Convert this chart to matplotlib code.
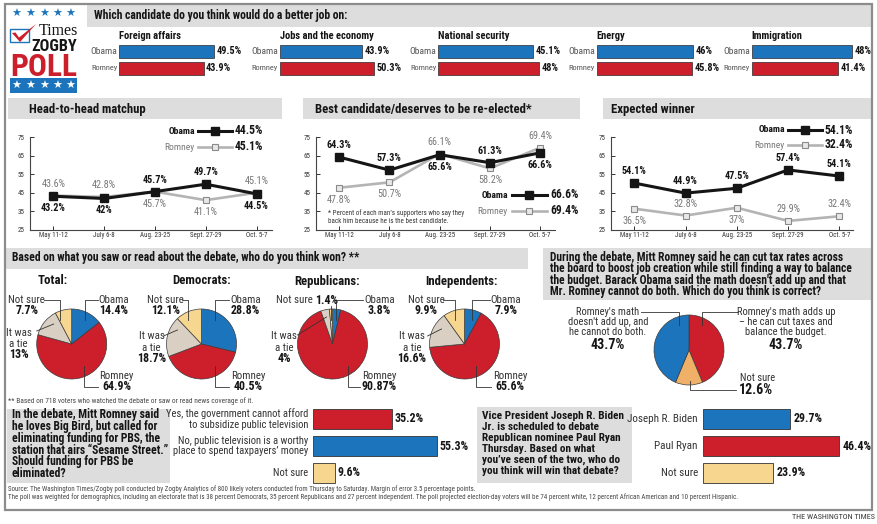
import os
import numpy as np
import matplotlib
matplotlib.use("Agg")
import matplotlib.pyplot as plt
from matplotlib import font_manager
from matplotlib.patches import Rectangle, Polygon
from matplotlib.font_manager import FontProperties

W, H = 878, 524

# ------------------------------------------------------------------ fonts
def _find(keys):
    for key in keys:
        for f in font_manager.fontManager.ttflist:
            if key in os.path.basename(f.fname).lower():
                return f.fname
    return None

COND_REG = _find(["liberationsansnarrow-regular", "robotocondensed-regular",
                  "dejavusanscondensed.ttf", "notosans-condensed.", "notosanscondensed-regular"])
COND_BLD = _find(["liberationsansnarrow-bold.", "robotocondensed-bold.",
                  "dejavusanscondensed-bold.", "notosans-condensedbold.", "notosanscondensed-bold."])
_fams = {f.name for f in font_manager.fontManager.ttflist}
FALLBACK = "Roboto" if "Roboto" in _fams else "Liberation Sans"
SERIF = "Liberation Serif" if "Liberation Serif" in _fams else "DejaVu Serif"
plt.rcParams["font.family"] = [FALLBACK, "DejaVu Sans"]


def FP(bold=False, size=7):
    if COND_REG and COND_BLD:
        return FontProperties(fname=COND_BLD if bold else COND_REG, size=size)
    return FontProperties(family=[FALLBACK, "DejaVu Sans"], weight="bold" if bold else "normal", size=size)


# ------------------------------------------------------------------ data
issues = ["Foreign affairs", "Jobs and the economy", "National security", "Energy", "Immigration"]
issue_obama = [49.5, 43.9, 45.1, 46, 48]
issue_romney = [43.9, 50.3, 48, 45.8, 41.4]

dates = ["May 11-12", "July 6-8", "Aug. 23-25", "Sept. 27-29", "Oct. 5-7"]
yticks = [25, 35, 45, 55, 65, 75]
h2h_obama = [43.2, 42, 45.7, 49.7, 44.5]
h2h_romney = [43.6, 42.8, 45.7, 41.1, 45.1]
best_obama = [64.3, 57.3, 65.6, 61.3, 66.6]
best_romney = [47.8, 50.7, 66.1, 58.2, 69.4]
exp_obama = [50.3, 44.9, 47.5, 57.4, 54.1]          # first point is drawn lower than its label
exp_obama_labels = ["54.1%", "44.9%", "47.5%", "57.4%", "54.1%"]
exp_romney = [36.5, 32.8, 37, 29.9, 32.4]

pie_groups = ["Total:", "Democrats:", "Republicans:", "Independents:"]
pie_cats = ["Obama", "Romney", "It was\na tie", "Not sure"]
pie_total = [14.4, 64.9, 13, 7.7]
pie_dem = [28.8, 40.5, 18.7, 12.1]
pie_rep = [3.8, 90.87, 4, 1.4]
pie_ind = [7.9, 65.6, 16.6, 9.9]

math_cats = ["Romney's math adds up\n– he can cut taxes and\nbalance the budget.",
             "Not sure",
             "Romney's math\ndoesn't add up, and\nhe cannot do both."]
math_vals = [43.7, 12.6, 43.7]

pbs_cats = ["Yes, the government cannot afford\nto subsidize public television",
            "No, public television is a worthy\nplace to spend taxpayers’ money",
            "Not sure"]
pbs_vals = [35.2, 55.3, 9.6]

vp_cats = ["Joseph R. Biden", "Paul Ryan", "Not sure"]
vp_vals = [29.7, 46.4, 23.9]

# ------------------------------------------------------------------ style
BLUE = "#1c75bc"
RED = "#cc1f2b"
TIE = "#d9d0c3"
NOTSURE = "#f7d690"
NOTSURE2 = "#f0b068"
BAND = "#dddddd"
DARK = "#151515"
LC = "#333333"
ROM_LINE = "#b4b4b4"
ROM_FILL = "#e8e8e8"
ROM_EDGE = "#8a8a8a"

fig = plt.figure(figsize=(W / 100, H / 100), dpi=100)
fig.patch.set_facecolor("white")
renderer = fig.canvas.get_renderer()


def px_axes(x0, y0, x1, y1, z=2):
    ax = fig.add_axes([x0 / W, 1 - y1 / H, (x1 - x0) / W, (y1 - y0) / H])
    ax.set_zorder(z)
    ax.patch.set_visible(False)
    return ax


bg = px_axes(0, 0, W, H, 0)
bg.set_xlim(0, W); bg.set_ylim(H, 0); bg.axis("off")
fg = px_axes(0, 0, W, H, 10)
fg.set_xlim(0, W); fg.set_ylim(H, 0); fg.axis("off")


def shrink(t, w=None, fit=None, cap=None):
    if w is None and fit is None:
        return t
    ww = t.get_window_extent(renderer).width
    if ww <= 0:
        return t
    if fit is not None:
        ns = t.get_fontsize() * fit / ww
        if cap is not None:
            ns = min(ns, cap)
        t.set_fontsize(ns)
    elif ww > w:
        t.set_fontsize(t.get_fontsize() * w / ww)
    return t


def T(x, y, s, size=7, bold=False, color=DARK, ha="left", va="center", fit=None, w=None, cap=None,
      fp=None, **kw):
    t = fg.text(x, y, s, fontproperties=fp if fp is not None else FP(bold, size),
                color=color, ha=ha, va=va, **kw)
    return shrink(t, w, fit, cap)


def block(x, y_first, lines, size, bold=False, color=DARK, ha="left", pitch=10.7):
    """One multi-line text whose line centres sit `pitch` pixels apart."""
    prop = FP(bold, size)
    if len(lines) == 1:
        return T(x, y_first, lines[0], size, bold=bold, color=color, ha=ha)
    t1 = fg.text(x, 0, lines[0], fontproperties=prop, va="center", ha=ha)
    h1 = t1.get_window_extent(renderer).height
    t1.remove()
    t2 = fg.text(x, 0, lines[0] + "\n" + lines[0], fontproperties=prop, va="center", ha=ha, linespacing=1.2)
    h2 = t2.get_window_extent(renderer).height
    t2.remove()
    ls = 1.2 * pitch / max(h2 - h1, 1e-6)
    n = len(lines)
    return fg.text(x, y_first + (n - 1) * pitch / 2, "\n".join(lines), fontproperties=prop,
                   va="center", ha=ha, multialignment=ha, linespacing=ls, color=color)


def band(x0, y0, x1, y1, color=BAND):
    bg.add_patch(Rectangle((x0, y0), x1 - x0, y1 - y0, facecolor=color, edgecolor="none", zorder=1))


def leader(cx, cy, pts):
    fg.plot([cx + a for a, b in pts], [cy + b for a, b in pts], color=LC, lw=0.6, zorder=7)


def fitted_size(s, size, bold, width, cap):
    t = fg.text(0, 0, s, fontproperties=FP(bold, size))
    ww = t.get_window_extent(renderer).width
    t.remove()
    return min(size * width / ww, cap)


# ------------------------------------------------------------------ frame & bands
band(87, 4, 872, 27)
band(8, 98, 282, 119)
band(303, 98, 580, 119)
band(603, 98, 872, 119)
band(5, 248, 528, 269)
band(543, 248, 872, 300)
band(7, 409, 170, 483)
band(477, 407, 632, 483)
bg.add_patch(Rectangle((5, 4), 867, 506, fill=False, edgecolor="#8c8c8c", lw=1.6, zorder=3))

# ------------------------------------------------------------------ logo
star_x = [16.7, 30.7, 44.3, 57.7, 70.7]
for sx in star_x:
    fg.text(sx, 14, "★", color=BLUE, fontsize=8, ha="center", va="center", family="DejaVu Sans")
bg.add_patch(Rectangle((10, 78.3), 67.3, 15, facecolor=BLUE, edgecolor="none", zorder=2))
for sx in star_x:
    fg.text(sx, 86, "★", color="white", fontsize=8, ha="center", va="center", family="DejaVu Sans")
fg.add_patch(Rectangle((10.5, 28.5), 18.5, 13, fill=False, edgecolor=BLUE, lw=1.0, zorder=5))
fg.add_patch(Polygon([(12, 33), (15.5, 32.5), (19, 37.5), (36, 24), (20, 42)], closed=True,
                     facecolor=RED, edgecolor="none", zorder=6))
T(78.5, 35.3, "Times", 13, color=DARK, ha="right", va="baseline", fit=39,
  fp=FontProperties(family=SERIF, size=13))
T(77.5, 50.6, "ZOGBY", 12, bold=True, ha="right", va="baseline", fit=45.5, cap=12.2)
T(43.6, 76.3, "POLL", 24, bold=True, color=RED, ha="center", va="baseline", fit=67)

# ------------------------------------------------------------------ top: better job bars
T(94, 15.5, "Which candidate do you think would do a better job on:", 8.4, bold=True, fit=253, cap=8.6)
bar_x0 = [119.5, 280, 438.5, 596.7, 751.7]
bar_scale = [1.915, 1.865, 2.09, 2.09, 2.09]
for i in range(len(issues)):
    x0, s = bar_x0[i], bar_scale[i]
    ax = px_axes(x0, 42.65, x0 + 58 * s, 76.85, 3)
    ax.set_xlim(0, 58)
    ax.set_ylim(1.5, -0.5)
    vals = [issue_obama[i], issue_romney[i]]
    ax.barh([0, 1], vals, height=0.75, color=[BLUE, RED], edgecolor="#2a2a2a", linewidth=0.5)
    ax.axis("off")
    for j, v in enumerate(vals):
        yy = 42.65 + 17.1 * (j + 0.5)
        T(x0 + v * s + 2.5, yy, f"{v:g}%", 7.4, bold=True)
        T(x0 - 2.0, yy, ["Obama", "Romney"][j], 6.8, color="#555", ha="right", w=27)
    T(x0, 36, issues[i], 7.6, bold=True)

# ------------------------------------------------------------------ line panels
panels = [
    dict(title="Head-to-head matchup", tx=29, tw=117, ax0=30, ax1=272, tick0=53.3, step=50.8,
         ob=h2h_obama, ro=h2h_romney, ob_lab=None, ob_pos="bbaab", ro_pos="aabba",
         leg=(195, 131, 147, 198, 232)),
    dict(title="Best candidate/deserves to be re-elected*", tx=315, tw=221, ax0=315.7, ax1=555,
         tick0=339.3, step=50.2, ob=best_obama, ro=best_romney, ob_lab=None,
         ob_pos="aabab", ro_pos="bbaba", leg=(508, 195, 211, 512, 547)),
    dict(title="Expected winner", tx=610.7, tw=86.7, ax0=610.7, ax1=853, tick0=634.3, step=51.25,
         ob=exp_obama, ro=exp_romney, ob_lab=exp_obama_labels,
         ob_pos="aaaaa", ro_pos="babaa", leg=(785, 130, 145, 788, 822)),
]

for p in panels:
    T(p["tx"], 109, p["title"], 9.0, bold=True, fit=p["tw"], cap=9.2)
    ax = px_axes(p["ax0"], 137.3, p["ax1"], 230, 3)
    step = p["step"]
    ax.set_xlim((p["ax0"] - p["tick0"]) / step, (p["ax1"] - p["tick0"]) / step)
    ax.set_ylim(25, 75)
    x = np.arange(len(dates))
    ax.plot(x, p["ro"], color=ROM_LINE, lw=1.9, marker="s", ms=5, mfc=ROM_FILL, mec=ROM_EDGE,
            mew=0.8, zorder=3, clip_on=False)
    ax.plot(x, p["ob"], color=DARK, lw=2.2, marker="s", ms=5.2, mfc=DARK, mec=DARK,
            zorder=4, clip_on=False)
    ob_labels = p["ob_lab"] or [f"{v:g}%" for v in p["ob"]]
    ro_labels = [f"{v:g}%" for v in p["ro"]]
    for i in x:
        for vals, labs, pos, bold, col in [(p["ob"], ob_labels, p["ob_pos"], True, DARK),
                                           (p["ro"], ro_labels, p["ro_pos"], False, "#777")]:
            dy = 8.6 if pos[i] == "a" else -8.6
            ax.annotate(labs[i], (i, vals[i]), xytext=(0, dy), textcoords="offset points",
                        ha="center", va="center", fontproperties=FP(bold, 7.3), color=col,
                        zorder=6, annotation_clip=False)
    for sp in ["top", "right"]:
        ax.spines[sp].set_visible(False)
    for sp in ["left", "bottom"]:
        ax.spines[sp].set_color("#444")
        ax.spines[sp].set_linewidth(0.8)
    ax.set_xticks(x)
    ax.set_xticklabels(dates)
    ax.set_yticks(yticks)
    ax.tick_params(direction="in", length=3, width=0.7, colors="#333")
    ax.tick_params(axis="y", pad=4)
    ax.tick_params(axis="x", pad=1.5)
    for lab in ax.get_xticklabels() + ax.get_yticklabels():
        lab.set_fontproperties(FP(False, 5.0))
    # legend
    xr, y_ob, y_ro, lx0, lx1 = p["leg"]
    for yy, name, last, is_ob in [(y_ob, "Obama", p["ob"][-1], True), (y_ro, "Romney", p["ro"][-1], False)]:
        T(xr, yy, name, 6.8, bold=is_ob, color=DARK if is_ob else "#777", ha="right")
        if is_ob:
            fg.plot([lx0, lx1], [yy, yy], color=DARK, lw=2.2, zorder=4)
            fg.plot([(lx0 + lx1) / 2], [yy], marker="s", ms=5.2, color=DARK, zorder=5)
        else:
            fg.plot([lx0, lx1], [yy, yy], color=ROM_LINE, lw=1.9, zorder=4)
            fg.plot([(lx0 + lx1) / 2], [yy], marker="s", ms=5, mfc=ROM_FILL, mec=ROM_EDGE, mew=0.8, zorder=5)
        T(lx1 + 3, yy, f"{last:g}%", 8.4, bold=True)

fn_lines = ["* Percent of each man’s supporters who say they",
            "back him because he is the best candidate."]
block(328, 213, fn_lines, fitted_size(fn_lines[0], 5, False, 138, 5.6), color="#333", pitch=8)

# ------------------------------------------------------------------ debate-winner pies
T(12, 258, "Based on what you saw or read about the debate, who do you think won? **", 8.4, bold=True,
  fit=346, cap=8.8)
pie_data = [pie_total, pie_dem, pie_rep, pie_ind]
pie_colors = [BLUE, RED, TIE, NOTSURE]
pie_cx = [71.7, 201.5, 332.5, 464.5]
pie_cy = 344
pie_r = 35
title_dx = [-19.5, 0, -5.5, -3.5]
ob_dx = [42, 44, 47, 41.5]
ns_dx = [-45, -36, None, -38]
tie_dx = [-53, -50, -48.5, -52.5]
ro_dx = [45, 47, 46.5, 45.5]
tie_y0 = [-11, -7.5, -7.5, -7.5]
ob_drop = [13, 13.5, 4, 8]
ns_drop = [-12, -13, -1.5, -9]
ro_drop = [12, 13.5, 15.5, 12]
tie_lead = [((-35, -13), (-18, -20)), ((-38, -8), (-24, -14)),
            ((-35, -9), (-6, -27)), ((-37, -8), (-23, -15))]
NAME_FS, VAL_FS = 7.8, 8.6

for k, vals in enumerate(pie_data):
    cx, cy, r = pie_cx[k], pie_cy, pie_r
    ax = px_axes(cx - r, cy - r, cx + r, cy + r, 3)
    wedges, _ = ax.pie(vals, colors=pie_colors, startangle=90, counterclock=False,
                       wedgeprops=dict(edgecolor="#3a3a3a", linewidth=0.5))
    for w_ in wedges:
        w_.set_clip_on(False)
    ax.set_xlim(-1, 1); ax.set_ylim(-1, 1)
    T(cx + title_dx[k], 281, pie_groups[k], 9.2, bold=True, ha="center")
    ob_v, ro_v, tie_v, ns_v = vals
    # Obama
    T(cx + ob_dx[k], cy - 44, pie_cats[0], NAME_FS, color=LC, ha="center")
    T(cx + ob_dx[k], cy - 33, f"{ob_v:g}%", VAL_FS, bold=True, ha="center")
    leader(cx, cy, [(ob_dx[k] - 16, -44), (ob_drop[k], -44), (ob_drop[k], -24)])
    # Not sure
    s = f"{ns_v:g}%"
    if ns_dx[k] is None:
        T(cx - 19.5, cy - 44, pie_cats[3], NAME_FS, color=LC, ha="right")
        T(cx - 17.5, cy - 44, s, VAL_FS, bold=True, ha="left")
        leader(cx, cy, [(ns_drop[k], -38), (ns_drop[k], -24)])
    else:
        T(cx + ns_dx[k], cy - 44, pie_cats[3], NAME_FS, color=LC, ha="center")
        T(cx + ns_dx[k], cy - 33, s, VAL_FS, bold=True, ha="center")
        leader(cx, cy, [(ns_dx[k] + 17, -44), (ns_drop[k], -44), (ns_drop[k], -24)])
    # tie
    block(cx + tie_dx[k], cy + tie_y0[k], pie_cats[2].split("\n"), NAME_FS, color=LC, ha="center", pitch=11)
    T(cx + tie_dx[k], cy + tie_y0[k] + 22, f"{tie_v:g}%", VAL_FS, bold=True, ha="center")
    leader(cx, cy, list(tie_lead[k]))
    # Romney
    T(cx + ro_dx[k], cy + 32, pie_cats[1], NAME_FS, color=LC, ha="center")
    T(cx + ro_dx[k], cy + 43, f"{ro_v:g}%", VAL_FS, bold=True, ha="center")
    leader(cx, cy, [(ro_drop[k], 22), (ro_drop[k], 43), (ro_dx[k] - 19, 43)])

T(8.5, 401, "** Based on 718 voters who watched the debate or saw or read news coverage of it.", 4.8,
  color="#444", fit=239, cap=5.6)

# ------------------------------------------------------------------ math pie
q_lines = ["During the debate, Mitt Romney said he can cut tax rates across",
           "the board to boost job creation while still finding a way to balance",
           "the budget. Barack Obama said the math doesn't add up and that",
           "Mr. Romney cannot do both. Which do you think is correct?"]
block(550, 258.3, q_lines, 8.3, bold=True, pitch=10.67)

mcx, mcy, mr = 689, 350, 35
ax = px_axes(mcx - mr, mcy - mr, mcx + mr, mcy + mr, 3)
wedges, _ = ax.pie(math_vals, colors=[RED, NOTSURE2, BLUE], startangle=90, counterclock=False,
                   wedgeprops=dict(edgecolor="#3a3a3a", linewidth=0.5))
for w_ in wedges:
    w_.set_clip_on(False)
ax.set_xlim(-1, 1); ax.set_ylim(-1, 1)
block(608, 312, math_cats[2].split("\n"), 7.6, color=LC, ha="center", pitch=10)
T(608, 345, f"{math_vals[2]:g}%", 10, bold=True, ha="center")
block(786, 312, math_cats[0].split("\n"), 7.6, color=LC, ha="center", pitch=10)
T(786, 345, f"{math_vals[0]:g}%", 10, bold=True, ha="center")
T(740, 378, math_cats[1], 7.6, color=LC, ha="left")
T(739, 390, f"{math_vals[1]:g}%", 10, bold=True, ha="left")
leader(mcx, mcy, [(-48, -38), (-10, -38), (-10, -25)])
leader(mcx, mcy, [(49, -38), (13, -38), (13, -25)])
leader(mcx, mcy, [(1, 31), (1, 40), (47, 40)])

# ------------------------------------------------------------------ PBS question
pbs_q = ["In the debate, Mitt Romney said", "he loves Big Bird, but called for",
         "eliminating funding for PBS, the", "station that airs “Sesame Street.”",
         "Should funding for PBS be", "eliminated?"]
block(12, 416.7, pbs_q, 8.4, bold=True, pitch=11)


def hbars(x0, scale, cats, vals, colors, lab_fs):
    y0, y1 = 405.5, 486.5
    ax = px_axes(x0, y0, x0 + 62 * scale, y1, 3)
    ax.set_xlim(0, 62)
    ax.set_ylim(2.5, -0.5)
    ax.barh(range(len(vals)), vals, height=0.74, color=colors, edgecolor="#333", linewidth=0.6)
    ax.axis("off")
    row_h = (y1 - y0) / 3
    for j, (c, v) in enumerate(zip(cats, vals)):
        yc = y0 + row_h * (j + 0.5)
        lines = c.split("\n")
        n = len(lines)
        block(x0 - 5, yc - (n - 1) / 2 * 10.7, lines, lab_fs, color=LC, ha="right", pitch=10.7)
        T(x0 + v * scale + 3, yc, f"{v:g}%", 8.6, bold=True)


hbars(313, 2.24, pbs_cats, pbs_vals, [RED, BLUE, NOTSURE], 7.6)

# ------------------------------------------------------------------ VP question
vp_q = ["Vice President Joseph R. Biden", "Jr. is scheduled to debate",
        "Republican nominee Paul Ryan", "Thursday. Based on what",
        "you’ve seen of the two, who do", "you think will win that debate?"]
block(482, 416, vp_q, 8.1, bold=True, pitch=10.9)
hbars(703, 2.94, vp_cats, vp_vals, [BLUE, RED, NOTSURE], 8.0)

# ------------------------------------------------------------------ source
src1 = ("Source: The Washington Times/Zogby poll conducted by Zogby Analytics of 800 likely voters "
        "conducted from Thursday to Saturday. Margin of error 3.5 percentage points.")
src2 = ("The poll was weighted for demographics, including an electorate that is 38 percent Democrats, "
        "35 percent Republicans and 27 percent independent. The poll projected election-day voters "
        "will be 74 percent white, 12 percent African American and 10 percent Hispanic.")
block(8, 489, [src1, src2], fitted_size(src2, 5.5, False, 714, 5.8), color="#444", pitch=8)
T(875, 517, "THE WASHINGTON TIMES", 5.5, color="#333", ha="right", fit=83, cap=6)

fig.savefig("out.png", dpi=100, facecolor="white")
